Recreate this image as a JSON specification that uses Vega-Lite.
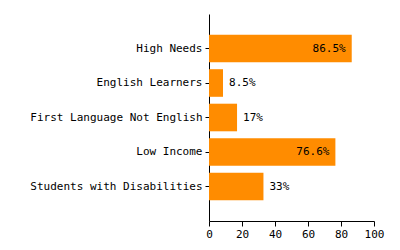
{
  "$schema": "https://vega.github.io/schema/vega-lite/v6.json",
  "width": 165,
  "height": 207,
  "padding": {"left": 29, "top": 14, "right": 5, "bottom": 5},
  "background": "white",
  "config": {"view": {"stroke": null}, "font": "DejaVu Sans Mono"},
  "data": {"values": [
    {"group": "High Needs", "value": 86.5, "label": "86.5%"},
    {"group": "English Learners", "value": 8.5, "label": "8.5%"},
    {"group": "First Language Not English", "value": 17, "label": "17%"},
    {"group": "Low Income", "value": 76.6, "label": "76.6%"},
    {"group": "Students with Disabilities", "value": 33, "label": "33%"}
  ]},
  "encoding": {
    "y": {"field": "group", "type": "nominal", "sort": null, "title": null,
      "scale": {"paddingInner": 0.2, "paddingOuter": 0.6},
      "axis": {"domainColor": "black", "tickColor": "black", "tickSize": 4, "labelPadding": 3, "labelFont": "DejaVu Sans Mono", "labelFontSize": 11, "labelColor": "black", "labelLimit": 300}},
    "x": {"field": "value", "type": "quantitative", "title": null,
      "scale": {"domain": [0, 100], "nice": false},
      "axis": {"values": [0, 20, 40, 60, 80, 100], "grid": false, "domainColor": "black", "tickColor": "black", "tickSize": 5, "labelPadding": 2, "labelFont": "DejaVu Sans Mono", "labelFontSize": 11, "labelColor": "black", "labelFlush": false}}
  },
  "layer": [
    {"mark": {"type": "bar", "color": "#FF8C00"}},
    {"transform": [{"filter": "datum.value > 50"}],
     "mark": {"type": "text", "align": "right", "dx": -6, "font": "DejaVu Sans Mono", "fontSize": 11, "color": "black"},
     "encoding": {"text": {"field": "label"}}},
    {"transform": [{"filter": "datum.value <= 50"}],
     "mark": {"type": "text", "align": "left", "dx": 6, "font": "DejaVu Sans Mono", "fontSize": 11, "color": "black"},
     "encoding": {"text": {"field": "label"}}}
  ]
}
